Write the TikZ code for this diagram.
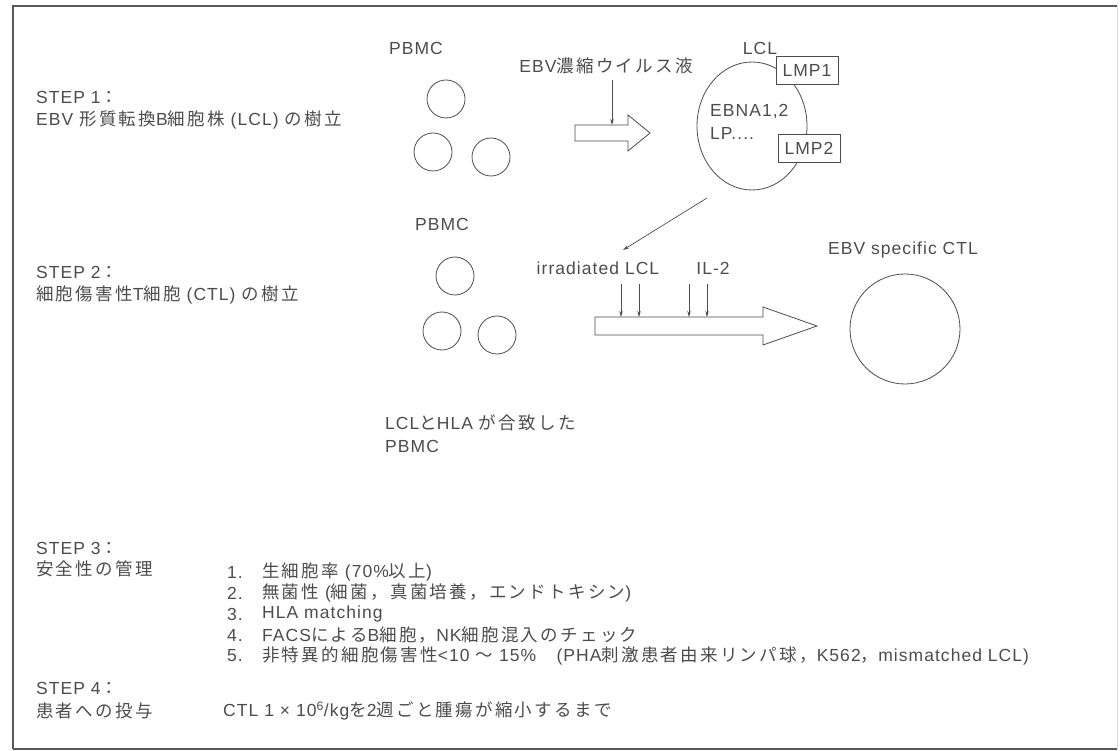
\documentclass[tikz,border=0pt]{standalone}
\usepackage{fontspec}
\setmainfont{Liberation Sans}[LetterSpace=6]
\newfontfamily\jp{Noto Sans CJK JP}[LetterSpace=13]
\usetikzlibrary{arrows.meta}
\definecolor{ink}{gray}{0.3}
\tikzset{
  txt/.style={font=\fontsize{17.5}{21}\selectfont, text=ink, inner sep=0pt},
  cell/.style={draw=ink, line width=0.8pt, circle, inner sep=0pt, minimum size=38pt},
  lmpbox/.style={draw=ink, line width=0.8pt, fill=white, minimum width=62pt, minimum height=28pt, inner sep=0pt, font=\fontsize{17.5}{21}\selectfont, text=ink},
  hollow/.style={draw=ink, line width=0.8pt, line join=miter, fill=white},
  thin/.style={draw=ink, line width=0.7pt, -{Stealth[length=6pt,width=3.5pt]}},
  frameline/.style={draw=black!65, line width=1.2pt}
}
\begin{document}
\begin{tikzpicture}[x=1pt,y=-1pt]
\useasboundingbox (0,0) rectangle (1120,751);
% frame
\draw[frameline] (13,749) -- (13,6) -- (1117,6);
\draw[frameline] (13,749) -- (1117,749);
\draw[draw=black!15, line width=1pt] (1117,6) -- (1117,749);

% ---------- STEP 1 ----------
\node[txt, anchor=west] (s1) at (36,97) {STEP 1{\jp ：}};
\node[txt, anchor=west] (s1t) at (36,120) {EBV {\jp 形質転換}B{\jp 細胞株} (LCL) {\jp の樹立}};
\node[txt] (pbmc1) at (416,48) {PBMC};
\node[cell] (c1a) at (446,99) {};
\node[cell] (c1b) at (433,152) {};
\node[cell] (c1c) at (491,157) {};
% hollow arrow 1
\coordinate (a1top) at (612,125);
\draw[hollow] (575,125) -- (628,125) -- (628,115) -- (650,133) -- (628,151) -- (628,141) -- (575,141) -- cycle;
\node[txt] (virus) at (606,66) {EBV{\jp 濃縮ウイルス液}};
\draw[thin] (612,80) -- (a1top);
% LCL
\node[txt] (lcl) at (760,48) {LCL};
\draw[draw=ink, line width=0.8pt] (752,126) ellipse [x radius=55, y radius=64];
\node[lmpbox] (lmp1) at (807,70) {LMP1};
\node[lmpbox] (lmp2) at (809,148) {LMP2};
\node[txt, anchor=west] (ebna) at (710,112) {EBNA1,2};
\node[txt, anchor=west] (lp) at (710,133) {LP....};
\coordinate (diagS) at (707,198);
\coordinate (diagE) at (623,250);
\draw[thin] (diagS) -- (diagE);

% ---------- STEP 2 ----------
\node[txt, anchor=west] (s2) at (36,272) {STEP 2{\jp ：}};
\node[txt, anchor=west] (s2t) at (36,295) {{\jp 細胞傷害性}T{\jp 細胞} (CTL) {\jp の樹立}};
\node[txt] (pbmc2) at (442,224) {PBMC};
\node[cell] (c2a) at (455,276) {};
\node[cell] (c2b) at (442,331) {};
\node[cell] (c2c) at (497,335) {};
\node[txt, anchor=west] (hla) at (385,423) {LCL{\jp と}HLA {\jp が合致した}};
\node[txt, anchor=west] (pbmc3) at (385,446) {PBMC};
\node[txt] (irr) at (598,268) {irradiated LCL};
\node[txt] (il2) at (713,268) {IL-2};
\draw[hollow] (595,317) -- (763,317) -- (763,307) -- (817,326) -- (763,345) -- (763,335) -- (595,335) -- cycle;
\foreach \xx in {621,639,689,707} {\draw[thin] (\xx,284) -- (\xx,317);}
\node[txt] (ctllab) at (903,250) {EBV specific CTL};
\node[cell, minimum size=110pt] (ctl) at (905,329) {};

% ---------- STEP 3 ----------
\node[txt, anchor=west] (s3) at (36,548) {STEP 3{\jp ：}};
\node[txt, anchor=west] (s3t) at (36,569) {\jp 安全性の管理};
\node[txt, anchor=west] (n1) at (227,572) {1.};
\node[txt, anchor=west] (i1) at (262,572) {{\jp 生細胞率} (70\%{\jp 以上})};
\node[txt, anchor=west] (n2) at (227,593) {2.};
\node[txt, anchor=west] (i2) at (262,593) {{\jp 無菌性} ({\jp 細菌，真菌培養，エンドトキシン})};
\node[txt, anchor=west] (n3) at (227,614) {3.};
\node[txt, anchor=west] (i3) at (262,614) {HLA matching};
\node[txt, anchor=west] (n4) at (227,635) {4.};
\node[txt, anchor=west] (i4) at (262,635) {FACS{\jp による}B{\jp 細胞，}NK{\jp 細胞混入のチェック}};
\node[txt, anchor=west] (n5) at (227,656) {5.};
\node[txt, anchor=west] (i5) at (262,656) {{\jp 非特異的細胞傷害性}<10 {\jp ～} 15\%\quad\,(PHA{\jp 刺激患者由来リンパ球，}K562{\jp ，}mismatched LCL)};

% ---------- STEP 4 ----------
\node[txt, anchor=west] (s4) at (36,688) {STEP 4{\jp ：}};
\node[txt, anchor=west] (s4t) at (36,711) {\jp 患者への投与};
\node[txt, anchor=west] (dose) at (223,711) {CTL 1 × 10\textsuperscript{6}/kg{\jp を}2{\jp 週ごと腫瘍が縮小するまで}};
\end{tikzpicture}
\end{document}
